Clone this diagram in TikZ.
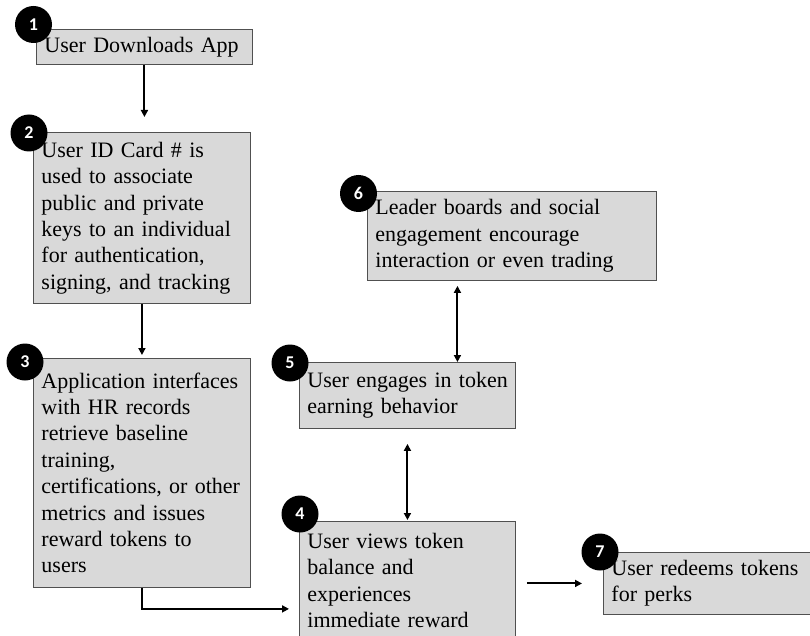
\documentclass[tikz,border=0pt]{standalone}
\usepackage{fontspec}
\setmainfont{Liberation Serif}
\newfontfamily\badgefont{Carlito}
\usetikzlibrary{arrows.meta}

\definecolor{boxfill}{HTML}{D9D9D9}
\definecolor{boxline}{HTML}{505050}

\begin{document}
\begin{tikzpicture}[x=1pt,y=-1pt]
\tikzstyle{box}=[draw=boxline,fill=boxfill,line width=0.9pt,anchor=north west,
    align=left,inner xsep=8pt,inner ysep=0pt,font=\fontsize{22}{26.4}\selectfont,
    execute at begin node={\rightskip=0pt plus 2em minus 30pt}]
\tikzstyle{badge}=[circle,fill=black,text=white,inner sep=0pt,minimum size=37pt,
    font=\badgefont\bfseries\fontsize{18}{18}\selectfont]
\tikzstyle{arr}=[line width=2pt,-{Triangle[length=7pt,width=7pt]}]
\tikzstyle{both}=[line width=2pt,{Triangle[length=7pt,width=7pt]}-{Triangle[length=7pt,width=7pt]}]
\useasboundingbox (0,0) rectangle (810,636);
\clip (0,0) rectangle (810,636);

% steps
\node[box,text width=200pt,minimum height=35pt] (b1) at (36,29) {User Downloads App};
\node[box,text width=201pt,minimum height=171pt] (b2) at (33,132)
    {User ID Card \# is\\used to associate\\public and private\\keys to an individual\\for authentication,\\signing, and tracking};
\node[box,text width=201pt,minimum height=229pt] (b3) at (33,358)
    {Application interfaces\\with HR records\\retrieve baseline\\training,\\certifications, or other\\metrics and issues\\reward tokens to\\users};
\node[box,text width=200pt,minimum height=118pt] (b4) at (299,521)
    {User views token\\balance and\\experiences\\immediate reward};
\node[box,text width=200pt,minimum height=66pt] (b5) at (299,362)
    {User engages in token\\earning behavior};
\node[box,text width=273pt,minimum height=89pt] (b6) at (367,191)
    {Leader boards and social\\engagement encourage\\interaction or even trading};
\node[box,text width=193pt,minimum height=62pt] (b7) at (603,552)
    {User redeems tokens\\for perks};

% numbers
\node[badge] (n1) at (33.5,24.5) {1};
\node[badge] (n2) at (29,133) {2};
\node[badge] (n3) at (25,362) {3};
\node[badge] (n4) at (300,514) {4};
\node[badge] (n5) at (290,363) {5};
\node[badge] (n6) at (358.5,193.5) {6};
\node[badge] (n7) at (600,552) {7};

% arrows
\coordinate (c34) at ([yshift=-21pt]b3.south);
\draw[arr,shorten >=15pt] (b1.south) -- (b1.south |- b2.north);
\draw[arr,shorten >=3pt] (b2.south) -- (b2.south |- b3.north);
\draw[arr,shorten >=10pt] (b3.south) -- (c34) -- (c34 -| b4.west);
\draw[both,shorten <=15pt,shorten >=1pt] (b5.south) -- (b4.north);
\draw[both,shorten <=5pt] ([xshift=50pt]b5.north |- b6.south) -- ([xshift=50pt]b5.north);
\draw[arr,shorten <=11pt,shorten >=21pt] (b4.east |- b7.west) -- (b7.west);
\end{tikzpicture}
\end{document}
